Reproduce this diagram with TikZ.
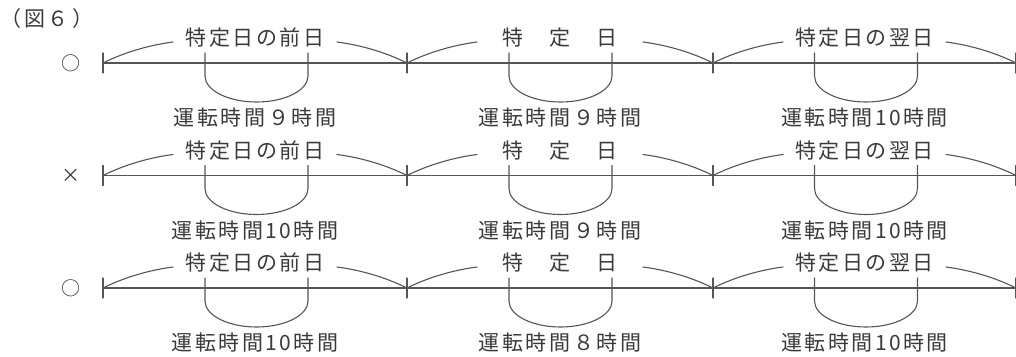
\documentclass[tikz,border=0pt]{standalone}
\usepackage{fontspec}
\newfontfamily\jp[LetterSpace=12]{Noto Sans CJK JP}
\newfontfamily\jpplain{Noto Sans CJK JP}
\definecolor{linegray}{HTML}{555555}
\definecolor{textgray}{HTML}{3A3A3A}
\begin{document}
\begin{tikzpicture}[x=1pt,y=1pt,line cap=round,
  rule/.style={draw=linegray,line width=1.1pt},
  lbl/.style={font=\jp\fontsize{21}{21}\selectfont,text=textgray,inner sep=0pt},
  marksym/.style={font=\jpplain\fontsize{19}{19}\selectfont,text=textgray,inner sep=0pt}]
\useasboundingbox (0,0) rectangle (1016,-356);
\node[font=\jp\fontsize{21}{21}\selectfont,text=textgray,inner sep=0pt,anchor=west] (title) at (0.5,-19) {（図６\kern4pt）};
\foreach \r/\y/\m/\ba/\bb/\bc in {1/-63/○/運転時間９時間/運転時間９時間/運転時間10時間,
                                   2/-175.5/×/運転時間10時間/運転時間９時間/運転時間10時間,
                                   3/-288/○/運転時間10時間/運転時間８時間/運転時間10時間}{
  \node[marksym] (mark\r) at (71,\y) {\m};
  % ticks and baseline
  \coordinate (t\r a) at (103,\y);
  \coordinate (t\r b) at (407,\y);
  \coordinate (t\r c) at (713,\y);
  \coordinate (t\r d) at (1016,\y);
  \draw[rule] (t\r a) -- (t\r d);
  \foreach \t in {a,b,c,d}{\draw[rule] ([yshift=10]t\r\t) -- ([yshift=-10]t\r\t);}
  % top labels
  \node[lbl] (top\r a) at (255,\y+25) {特定日の前日};
  \node[lbl] (top\r b) at (560,\y+25) {特　定　日};
  \node[lbl] (top\r c) at (864.5,\y+25) {特定日の翌日};
  % bottom labels
  \node[lbl] (bot\r a) at (255,\y-55) {\ba};
  \node[lbl] (bot\r b) at (560,\y-55) {\bb};
  \node[lbl] (bot\r c) at (864.5,\y-55) {\bc};
  % brace arcs
  \foreach \s/\e in {a/b,b/c,c/d}{
    \draw[rule] (t\r\s) .. controls ([shift={(22,11)}]t\r\s) and ([shift={(47,18)}]t\r\s) .. ([shift={(70,21)}]t\r\s);
    \draw[rule] ([shift={(-70,21)}]t\r\e) .. controls ([shift={(-47,18)}]t\r\e) and ([shift={(-22,11)}]t\r\e) .. (t\r\e);
  }
  % U shapes
  \foreach \u in {256.5,560.5,866}{
    \draw[rule] (\u-51.5,\y+10) -- (\u-51.5,\y-13) arc[start angle=180,end angle=360,x radius=51.5,y radius=26] -- (\u+51.5,\y+10);
  }
}
\end{tikzpicture}
\end{document}
